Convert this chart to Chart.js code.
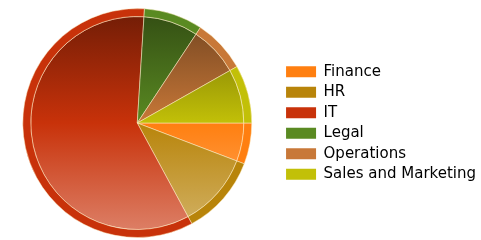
<!DOCTYPE html>
<html>
<head>
<meta charset="utf-8">
<script src="https://cdn.jsdelivr.net/npm/chart.js@4/dist/chart.umd.min.js"></script>
<style>
  html, body { margin: 0; padding: 0; background: #fff; overflow: hidden; }
  #chart { display: block; margin-left: -6px; }
</style>
</head>
<body>
<canvas id="chart" width="492" height="240"></canvas>
<script>
const departments = ['Finance', 'HR', 'IT', 'Legal', 'Operations', 'Sales and Marketing']
const shares = [5.8, 11.3, 58.9, 8.3, 7.5, 8.2]
const baseColors = ['#ff7f10', '#b8840a', '#c8320a', '#5a8a22', '#c87838', '#c2c008']

function shade(hex, f) {
  const n = parseInt(hex.slice(1), 16)
  let r = (n >> 16) & 255, g = (n >> 8) & 255, b = n & 255
  if (f < 0) {
    r = r * (1 + f); g = g * (1 + f); b = b * (1 + f)
  } else {
    r = r + (255 - r) * f; g = g + (255 - g) * f; b = b + (255 - b) * f
  }
  return `rgb(${Math.round(r)}, ${Math.round(g)}, ${Math.round(b)})`
}

function innerFill(context) {
  const chart = context.chart
  const area = chart.chartArea
  const color = baseColors[context.dataIndex]
  if (!area) return color
  const g = chart.ctx.createLinearGradient(0, area.top, 0, area.bottom)
  g.addColorStop(0, shade(color, -0.45))
  g.addColorStop(0.5, color)
  g.addColorStop(1, shade(color, 0.4))
  return g
}

new Chart(document.getElementById('chart'), {
  type: 'pie',
  data: {
    labels: departments,
    datasets: [
      {
        data: shares,
        backgroundColor: baseColors,
        borderColor: 'rgba(255, 240, 200, 0.5)',
        borderWidth: 1,
        weight: 8,
      },
      {
        data: shares,
        backgroundColor: innerFill,
        borderColor: 'rgba(255, 240, 200, 0.5)',
        borderWidth: 1,
        weight: 107,
      },
    ],
  },
  options: {
    responsive: false,
    animation: false,
    rotation: 90,
    layout: { padding: { top: 8, bottom: 2, left: 0, right: 0 } },
    plugins: {
      tooltip: { enabled: false },
      legend: {
        position: 'right',
        labels: {
          boxWidth: 30,
          boxHeight: 11,
          padding: 5.5,
          color: '#3a3a3a',
          font: { family: 'DejaVu Sans', size: 15 },
          generateLabels: (chart) =>
            departments.map((d, i) => ({
              text: d,
              fillStyle: baseColors[i],
              strokeStyle: baseColors[i],
              lineWidth: 0,
              index: i,
            })),
        },
      },
    },
  },
})
</script>
</body>
</html>
